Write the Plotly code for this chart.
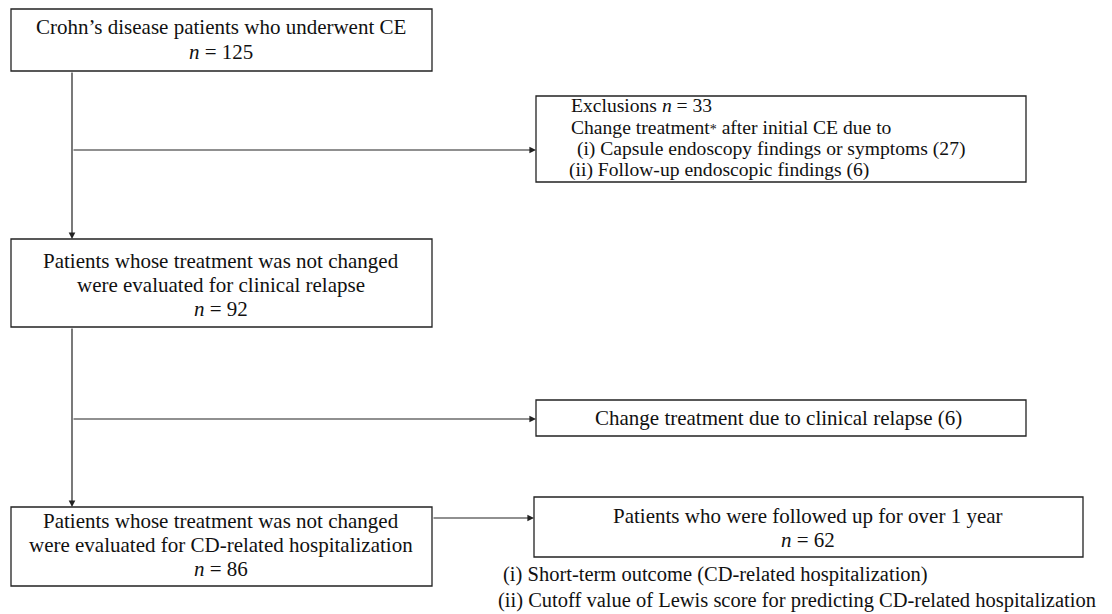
import plotly.graph_objects as go

# ---- data ----
n_total = 125
n_excluded = 33
n_capsule = 27
n_followup_endo = 6
n_relapse_eval = 92
n_relapse_change = 6
n_hosp_eval = 86
n_over_1yr = 62

box_ids = ["start", "excl", "relapse", "relapse_change", "hosp", "followed"]
box_x0 = [11, 536, 11, 536, 11, 534]
box_x1 = [432, 1026, 432, 1026, 432, 1083]
box_y0 = [9, 96, 239, 400, 507, 497]
box_y1 = [71, 182, 327, 436, 586, 557]

FONT = "Liberation Serif"
FS = 21
COL = "#111111"
OFF = 8  # page body margin

fig = go.Figure()
fig.update_layout(
    width=1112 - OFF, height=614 - OFF,
    margin=dict(l=0, r=0, t=0, b=0),
    paper_bgcolor="white", plot_bgcolor="white",
    xaxis=dict(range=[OFF, 1112], visible=False, fixedrange=True),
    yaxis=dict(range=[614, OFF], visible=False, fixedrange=True),
    showlegend=False,
)

# boxes
for x0, x1, y0, y1 in zip(box_x0, box_x1, box_y0, box_y1):
    fig.add_shape(type="rect", x0=x0, x1=x1, y0=y0, y1=y1,
                  line=dict(color="#222222", width=1.3), fillcolor="rgba(0,0,0,0)")

def txt(x, y, s, anchor="center", size=FS):
    fig.add_annotation(x=x, y=y, text=s, showarrow=False, xanchor=anchor, yanchor="middle",
                       font=dict(family=FONT, size=size, color=COL))

# box 1
txt(221, 27, "Crohn’s disease patients who underwent CE")
txt(221, 52, f"<i>n</i> = {n_total}")
# box 2
FS2 = 19.6
txt(569, 105, f"Exclusions <i>n</i> = {n_excluded}", "left", FS2)
txt(569, 127, "Change treatment<span style='font-size:14px'>*</span> after initial CE due to", "left", FS2)
txt(570, 149, f" (i) Capsule endoscopy findings or symptoms ({n_capsule})", "left", FS2)
txt(567, 170, f"(ii) Follow-up endoscopic findings ({n_followup_endo})", "left", FS2)
# box 3
txt(221, 261, "Patients whose treatment was not changed")
txt(221, 285, "were evaluated for clinical relapse")
txt(221, 309, f"<i>n</i> = {n_relapse_eval}")
# box 4
txt(778, 418, f"Change treatment due to clinical relapse ({n_relapse_change})")
# box 5
txt(221, 521, "Patients whose treatment was not changed")
txt(221, 545, "were evaluated for CD-related hospitalization")
txt(221, 569, f"<i>n</i> = {n_hosp_eval}")
# box 6
txt(808, 516, "Patients who were followed up for over 1 year")
txt(808, 540, f"<i>n</i> = {n_over_1yr}")
# outcomes
txt(501, 574, "(i) Short-term outcome (CD-related hospitalization)", "left", 20.5)
txt(496, 600, "(ii) Cutoff value of Lewis score for predicting CD-related hospitalization", "left", 20.5)

# connectors
def arrow(x0, y0, x1, y1):
    fig.add_annotation(x=x1, y=y1, ax=x0, ay=y0, axref="x", ayref="y", xref="x", yref="y",
                       text="", showarrow=True, arrowhead=2, arrowsize=1.1, arrowwidth=1.2,
                       arrowcolor="#222222")

arrow(72, 71, 72, 239)
arrow(72, 150, 536, 150)
arrow(72, 327, 72, 507)
arrow(72, 419, 536, 419)
arrow(432, 518, 534, 518)

fig.write_html("out.html")
